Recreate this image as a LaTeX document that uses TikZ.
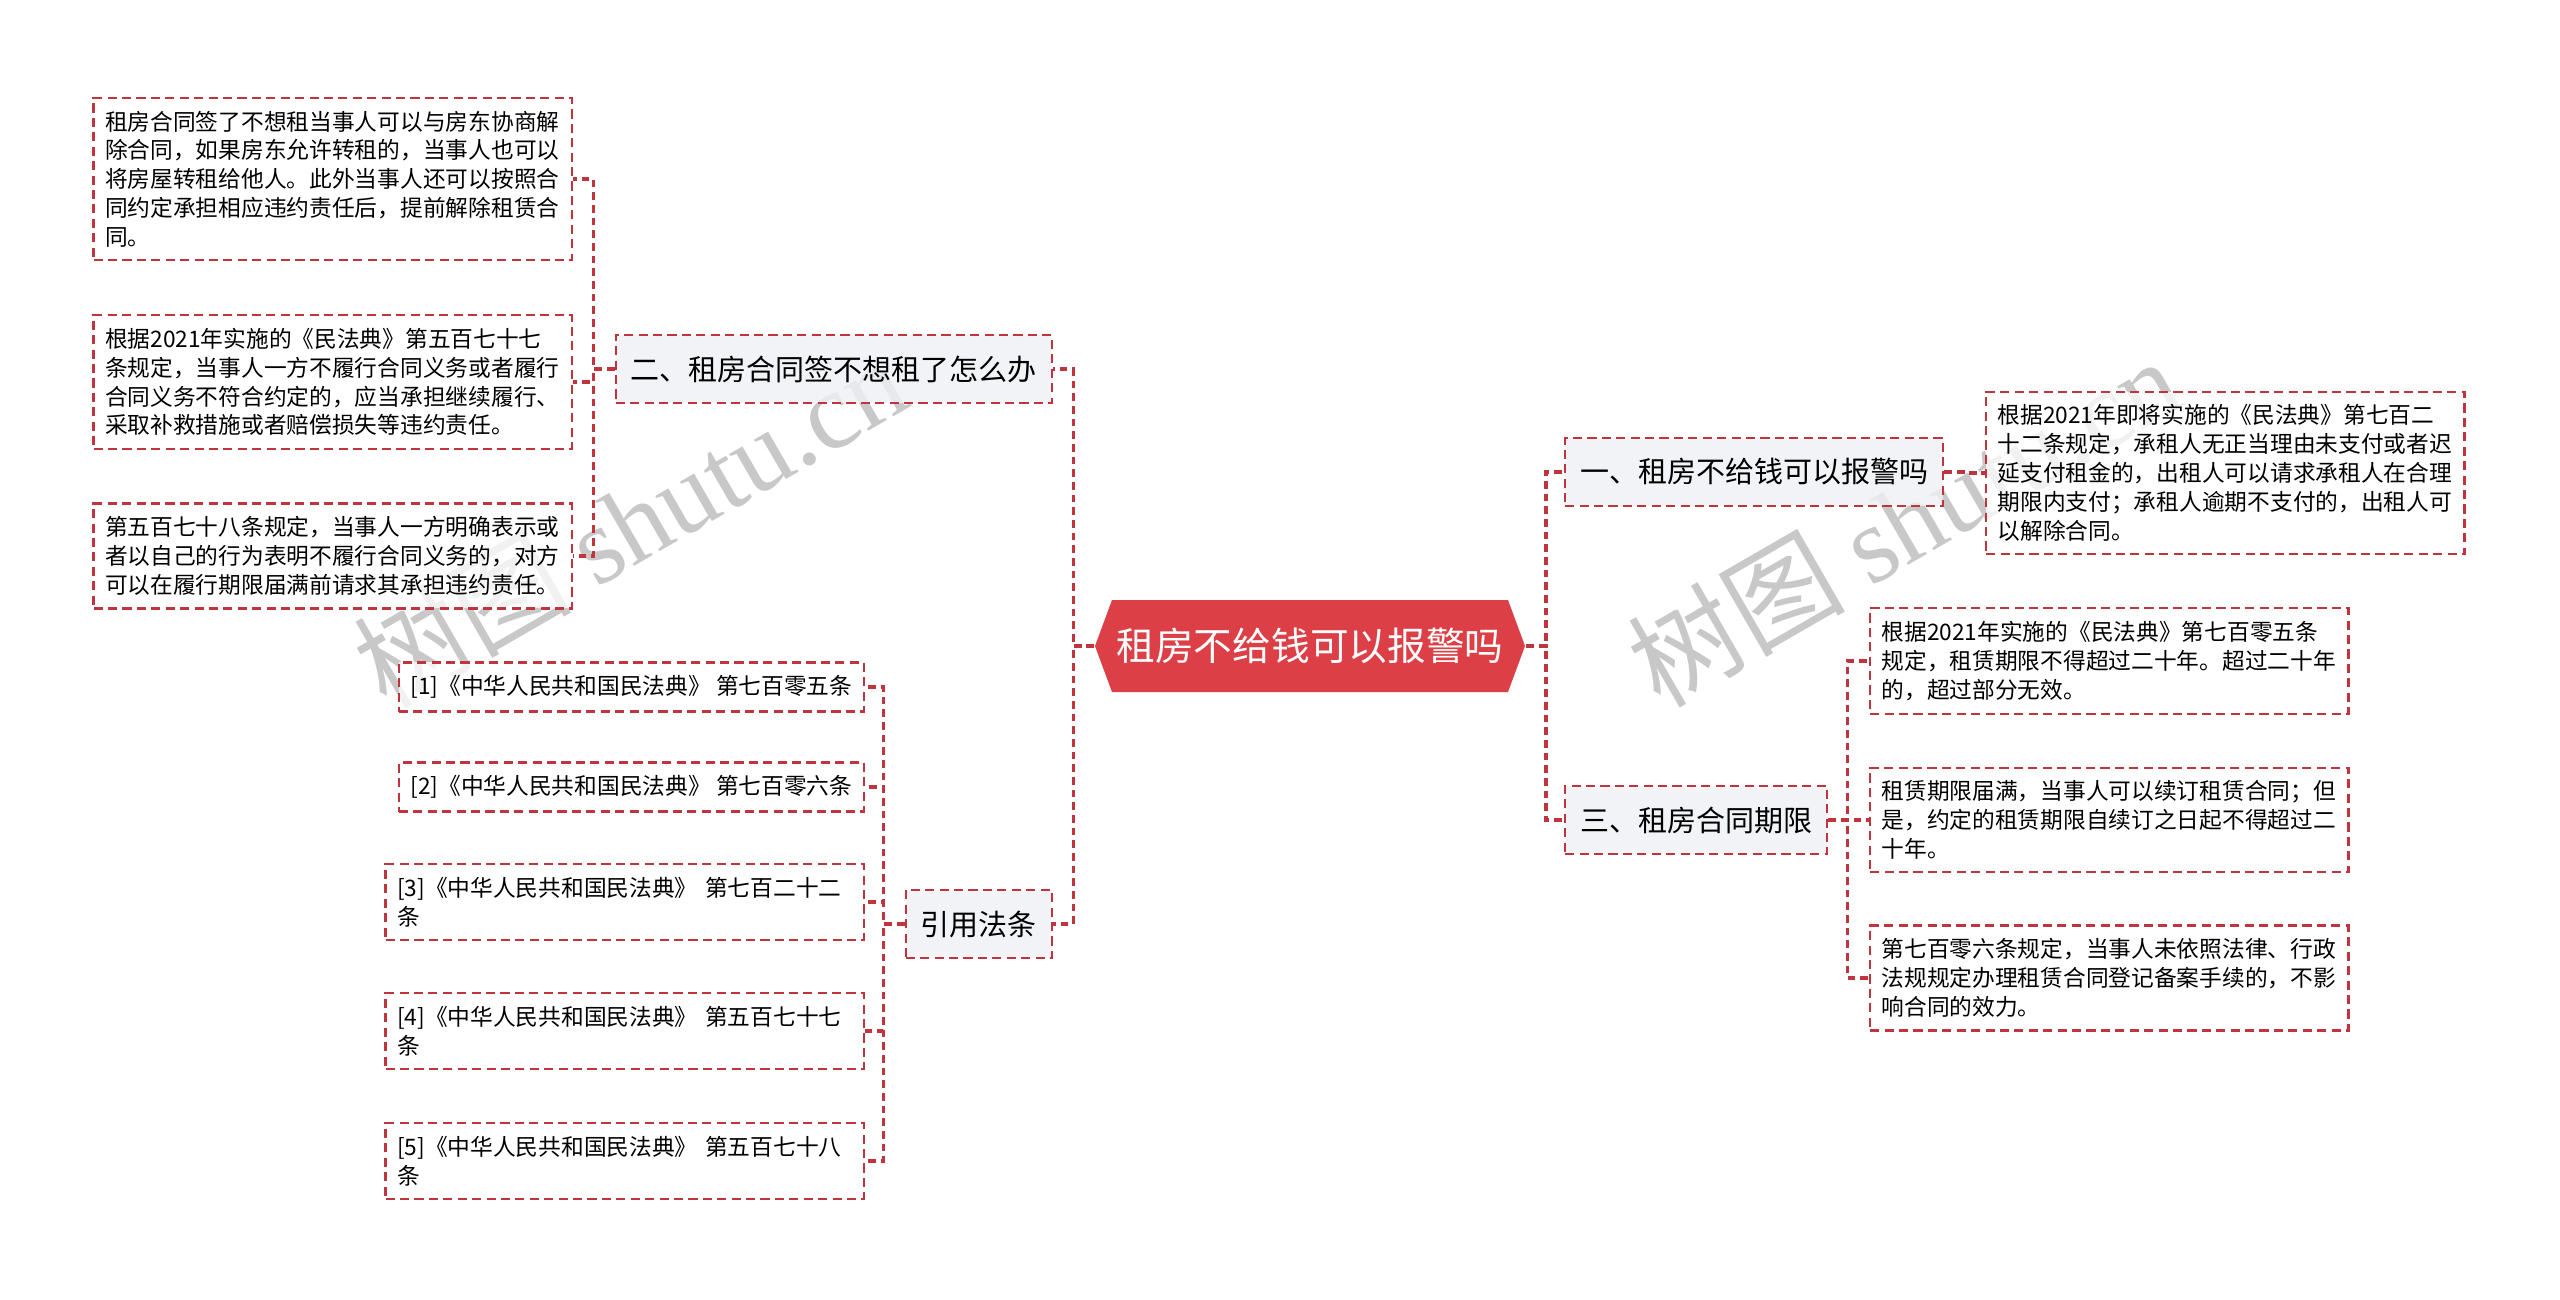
\documentclass[tikz,border=0pt]{standalone}
\usepackage{fontspec}
\setmainfont{Noto Sans CJK SC}
\newfontfamily\wmfont{Liberation Serif}
\usepackage{xcolor}
\definecolor{mapred}{HTML}{C0343D}
\definecolor{rootred}{HTML}{DC3F46}
\definecolor{topicgray}{HTML}{EFF1F4}
\definecolor{markgray}{HTML}{C8C8C8}

\begin{document}
\begin{tikzpicture}[x=0.01cm, y=-0.01cm,
  link/.style={mapred, line width=0.95pt, dash pattern=on 2.2pt off 1.4pt},
  rootbox/.style={text=white, font=\fontsize{11pt}{13pt}\selectfont,
    minimum width=4.3cm, minimum height=0.92cm, inner sep=0pt},
  topic/.style={draw=mapred, fill=topicgray, fill opacity=0.8, text opacity=1,
    line width=0.65pt, dash pattern=on 2.6pt off 1.5pt,
    font=\fontsize{8.25pt}{10pt}\selectfont,
    minimum height=0.68cm, inner xsep=0.15cm},
  note/.style={draw=mapred, fill=white, fill opacity=0.75, text opacity=1,
    line width=0.65pt, dash pattern=on 2.6pt off 1.5pt,
    font=\fontsize{6.46pt}{8.2pt}\selectfont, align=left,
    inner xsep=0.115cm, inner ysep=0.13cm},
  leaf/.style={note, text width=4.55cm}]
  \fill[white] (0,0) rectangle (2560,1299);
  \useasboundingbox (0,0) rectangle (2560,1299);

  \node[rotate=30, text=markgray] (markL) at (629,522)
    {\fontsize{31pt}{31pt}\selectfont 树图 {\wmfont shutu.cn}};
  \node[rotate=30, text=markgray] (markR) at (1903,521)
    {\fontsize{31pt}{31pt}\selectfont 树图 {\wmfont shutu.cn}};

  % central topic
  \fill[rootred] (1095,646) -- (1112,600) -- (1508,600) -- (1525,646)
    -- (1508,692) -- (1112,692) -- cycle;
  \node[rootbox] (root) at (1310,646) {租房不给钱可以报警吗};

  \node[topic, anchor=west] (one) at (1564,472) {一、租房不给钱可以报警吗};
  \node[topic, anchor=west] (three) at (1564,820) {三、租房合同期限};
  \node[topic, anchor=east] (two) at (1053,369) {二、租房合同签不想租了怎么办};
  \node[topic, anchor=east] (cite) at (1053,924) {引用法条};

  \node[leaf, anchor=west] (oneA) at (1985,473)
    {根据2021年即将实施的《民法典》第七百二\\十二条规定，承租人无正当理由未支付或者迟\\延支付租金的，出租人可以请求承租人在合理\\期限内支付；承租人逾期不支付的，出租人可\\以解除合同。};
  \node[leaf, anchor=west] (threeA) at (1869,661)
    {根据2021年实施的《民法典》第七百零五条\\规定，租赁期限不得超过二十年。超过二十年\\的，超过部分无效。};
  \node[leaf, anchor=west] (threeB) at (1869,820)
    {租赁期限届满，当事人可以续订租赁合同；但\\是，约定的租赁期限自续订之日起不得超过二\\十年。};
  \node[leaf, anchor=west] (threeC) at (1869,978)
    {第七百零六条规定，当事人未依照法律、行政\\法规规定办理租赁合同登记备案手续的，不影\\响合同的效力。};

  \node[leaf, anchor=east] (twoA) at (573,179)
    {租房合同签了不想租当事人可以与房东协商解\\除合同，如果房东允许转租的，当事人也可以\\将房屋转租给他人。此外当事人还可以按照合\\同约定承担相应违约责任后，提前解除租赁合\\同。};
  \node[leaf, anchor=east] (twoB) at (573,382)
    {根据2021年实施的《民法典》第五百七十七\\条规定，当事人一方不履行合同义务或者履行\\合同义务不符合约定的，应当承担继续履行、\\采取补救措施或者赔偿损失等违约责任。};
  \node[leaf, anchor=east] (twoC) at (573,556)
    {第五百七十八条规定，当事人一方明确表示或\\者以自己的行为表明不履行合同义务的，对方\\可以在履行期限届满前请求其承担违约责任。};

  \node[note, anchor=east] (citeA) at (865,687) {[1]《中华人民共和国民法典》 第七百零五条};
  \node[note, anchor=east] (citeB) at (865,787) {[2]《中华人民共和国民法典》 第七百零六条};
  \node[leaf, anchor=east] (citeC) at (865,902) {[3]《中华人民共和国民法典》 第七百二十二\\条};
  \node[leaf, anchor=east] (citeD) at (865,1031) {[4]《中华人民共和国民法典》 第五百七十七\\条};
  \node[leaf, anchor=east] (citeE) at (865,1161) {[5]《中华人民共和国民法典》 第五百七十八\\条};

  \foreach \n in {one,three}
    \draw[link] (root.east) -- ++(20,0) |- (\n.west);
  \foreach \n in {two,cite}
    \draw[link] (root.west) -- ++(-21,0) |- (\n.east);
  \draw[link] (one.east) -- ++(21,0) |- (oneA.west);
  \foreach \n in {threeA,threeB,threeC}
    \draw[link] (three.east) -- ++(19,0) |- (\n.west);
  \foreach \n in {twoA,twoB,twoC}
    \draw[link] (two.west) -- ++(-21,0) |- (\n.east);
  \foreach \n in {citeA,citeB,citeC,citeD,citeE}
    \draw[link] (cite.west) -- ++(-21,0) |- (\n.east);
\end{tikzpicture}
\end{document}
